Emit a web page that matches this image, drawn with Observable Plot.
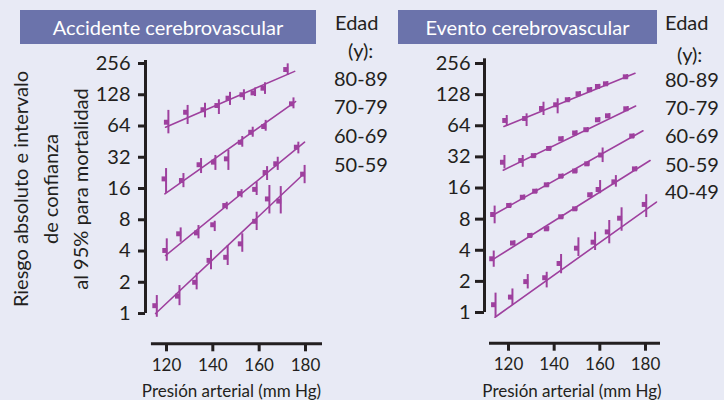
<!DOCTYPE html>
<html><head><meta charset="utf-8">
<script src="https://cdn.jsdelivr.net/npm/d3@7"></script>
<script src="https://cdn.jsdelivr.net/npm/@observablehq/plot@0.6"></script>
<style>
body{margin:0;background:#e8eaf5;}
#wrap{position:relative;width:724px;height:400px;overflow:hidden;background:#e8eaf5;font-family:Lato,"Open Sans",sans-serif;color:#231f20;}
.t{position:absolute;white-space:nowrap;line-height:1;}
.title{position:absolute;background:#6b73ab;color:#fff;font-size:20px;text-align:center;height:34px;line-height:34px;white-space:nowrap;}
.ylab{position:absolute;width:300px;height:90px;left:-100px;top:144px;transform:rotate(-90deg);text-align:center;font-size:20px;line-height:30px;white-space:nowrap;}
#wrap svg{position:absolute;top:0;}
</style></head><body><div id="wrap"></div>
<script>
// ---- shared ticks ----
const yTicks = [1, 2, 4, 8, 16, 32, 64, 128, 256];
const xTicks = [120, 140, 160, 180];

// ---- Accidente cerebrovascular ----
const strokeAges = ["80-89", "70-79", "60-69", "50-59"];
const strokeBP = [
  [120.3, 128.6, 136.1, 142.1, 146.9, 152.9, 157.7, 162.0, 171.8],
  [119.3, 126.8, 134.4, 140.6, 146.2, 152.2, 156.7, 162.3, 174.3],
  [119.6, 125.6, 133.3, 140.3, 145.5, 151.9, 158.4, 162.9, 167.5, 176.4],
  [115.3, 125.1, 132.5, 138.7, 145.9, 152.2, 158.4, 163.9, 168.8, 179.1]
];
const strokeRisk = [
  [69.6, 86.8, 91.8, 100.8, 118.6, 128, 133.4, 148, 224],
  [19.8, 19.1, 27.1, 28.7, 30.9, 44.6, 55.7, 63.3, 104.7],
  [4.05, 5.86, 5.98, 7.16, 10.97, 14.3, 15.7, 22.8, 27.7, 40],
  [1.19, 1.47, 2.0, 3.25, 3.48, 4.69, 7.73, 12.7, 12.1, 22]
];
const strokeLo = [
  [53.8, 66.2, 76.7, 82.6, 101, 113, 123, 129, 197],
  [14.3, 16.3, 22.3, 23.9, 23.9, 40, 49.9, 57, 93.7],
  [3.19, 4.86, 5.24, 6.16, 9.98, 13, 13.7, 19.1, 23.9, 34.5],
  [0.92, 1.19, 1.69, 2.64, 2.9, 3.89, 6.3, 9.1, 9.1, 17.8]
];
const strokeHi = [
  [90.5, 101, 106, 114.5, 135, 143, 149, 167, 254],
  [24.9, 22.3, 31.1, 33.3, 37.3, 50.7, 62.3, 72.5, 119.4],
  [5.24, 6.68, 7.04, 7.74, 11.8, 15.6, 18.4, 26, 32, 44.7],
  [1.49, 1.86, 2.45, 4.05, 4.52, 5.86, 9.46, 17.1, 16.7, 26.7]
];
const strokeFitBP = [[119.6, 175.3], [119.3, 175.7], [119.6, 179.6], [115.3, 179.3]];
const strokeFitRisk = [[62.3, 215], [14.2, 110], [3.62, 44.7], [1.0, 22.2]];

// ---- Evento cerebrovascular ----
const eventAges = ["80-89", "70-79", "60-69", "50-59", "40-49"];
const eventBP = [
  [118.7, 127.4, 134.8, 141.0, 146.1, 150.8, 155.7, 159.3, 162.8, 171.5],
  [117.7, 125.7, 131.2, 137.9, 143.2, 149.3, 154.2, 159.3, 163.7, 171.7],
  [113.4, 120.4, 126.4, 131.8, 136.9, 143.2, 149.3, 154.6, 160.7, 174.3],
  [113.0, 122.1, 129.6, 136.9, 143.2, 149.3, 155.9, 159.6, 166.5, 175.5],
  [113.8, 121.2, 127.9, 136.2, 142.5, 150.1, 157.4, 163.6, 169.0, 179.8]
];
const eventRisk = [
  [72.0, 75.2, 94.0, 102.1, 114.3, 130.4, 142.8, 153.4, 162.9, 190.4],
  [28.4, 29.5, 32.9, 38.6, 47.9, 54.5, 58.6, 73.1, 79.9, 93.4],
  [8.87, 10.84, 13.03, 14.90, 17.18, 20.81, 23.36, 27.42, 33.36, 50.9],
  [3.31, 4.70, 5.56, 6.45, 8.43, 10.07, 13.76, 15.48, 18.36, 24.5],
  [1.19, 1.41, 1.99, 2.17, 2.98, 4.19, 4.79, 6.02, 8.17, 11.1]
];
const eventLo = [
  [62.9, 62.9, 80.4, 83.5, 109, 124, 136, 146, 155, 181],
  [24.5, 25.4, 31.3, 36.7, 45.5, 51.8, 55.7, 69.4, 75.9, 88.7],
  [7.21, 10.3, 12.4, 14.2, 16.3, 19.8, 22.2, 26.0, 28.2, 48.4],
  [2.74, 4.47, 5.28, 6.13, 8.01, 9.57, 13.1, 14.1, 16.3, 23.3],
  [0.905, 1.17, 1.69, 1.73, 2.37, 3.48, 3.98, 4.62, 6.11, 8.29]
];
const eventHi = [
  [80.4, 83.5, 108.1, 116.6, 120, 137, 150, 161, 171, 200],
  [33.0, 33.0, 34.5, 40.5, 50.3, 57.2, 61.5, 76.8, 83.9, 98.1],
  [10.7, 11.4, 13.7, 15.6, 18.0, 21.9, 24.5, 28.8, 39.0, 53.4],
  [3.93, 4.94, 5.84, 6.77, 8.85, 10.6, 14.4, 18.9, 21.1, 25.7],
  [1.54, 1.69, 2.33, 2.45, 3.64, 5.28, 5.98, 7.76, 10.3, 13.8]
];
const eventFitBP = [[118.0, 175.4], [117.7, 175.7], [112.9, 178.9], [112.9, 182.0], [114.1, 184.8]];
const eventFitRisk = [[62.9, 206], [23.8, 99.4], [8.67, 57.2], [3.23, 29.5], [0.90, 11.7]];

const titles = ["Accidente cerebrovascular", "Evento cerebrovascular"];
const yLabelLines = ["Riesgo absoluto e intervalo", "de confianza", "al 95% para mortalidad"];
const xLabel = "Presión arterial (mm Hg)";
const legendHead = ["Edad", "(y):"];

const purple = "#9e409e";
const ink = "#231f20";

function rows(ages, bp, risk, lo, hi) {
  return ages.flatMap((age, i) => bp[i].map((x, j) => ({age, bp: x, risk: risk[i][j], lo: lo[i][j], hi: hi[i][j]})));
}
function fitRows(ages, fbp, frisk) {
  return ages.flatMap((age, i) => fbp[i].map((x, j) => ({age, bp: x, risk: frisk[i][j]})));
}

function panel(o) {
  return Plot.plot({
    width: 362, height: 400,
    marginLeft: o.marginLeft, marginRight: o.marginRight, marginTop: o.marginTop, marginBottom: o.marginBottom,
    x: {domain: o.xDomain},
    y: {type: "log", base: 2, domain: o.yDomain},
    style: {background: "transparent", fontFamily: "Lato, 'Open Sans', sans-serif", fontSize: "20px", color: ink, overflow: "visible"},
    marks: [
      Plot.ruleX([o.xDomain[0]], {x: d => d, y1: yTicks[0], y2: o.yDomain[1], stroke: ink, strokeWidth: 3}),
      Plot.ruleY([o.yDomain[0]], {y: d => d, x1: o.xLineStart, x2: o.xDomain[1], stroke: ink, strokeWidth: 3}),
      Plot.axisY(yTicks, {anchor: "left", tickSize: o.yTickSize, tickPadding: o.yTickPad, strokeWidth: 3, fontSize: 20, tickFormat: d => String(d), label: null}),
      Plot.axisX(xTicks, {anchor: "bottom", tickSize: 8, tickPadding: 7, strokeWidth: 3, fontSize: 17, tickFormat: d => String(d), label: null}),
      Plot.line(o.fits, {x: "bp", y: "risk", z: "age", stroke: purple, strokeWidth: 1.6}),
      Plot.ruleX(o.pts, {x: "bp", y1: "lo", y2: "hi", stroke: purple, strokeWidth: 2, dx: 1.2}),
      Plot.dot(o.pts, {x: "bp", y: "risk", symbol: "square", r: 2.8, fill: purple, stroke: null, dx: -0.8})
    ]
  });
}

const wrap = document.getElementById("wrap");

const left = panel({
  pts: rows(strokeAges, strokeBP, strokeRisk, strokeLo, strokeHi),
  fits: fitRows(strokeAges, strokeFitBP, strokeFitRisk),
  xDomain: [110.94, 187.34], yDomain: [0.511, 273.6], xLineStart: 113.5,
  marginLeft: 145, marginRight: 40, marginTop: 60, marginBottom: 56.7,
  yTickSize: 7, yTickPad: 8
});
left.style.left = "0px";
wrap.appendChild(left);

const right = panel({
  pts: rows(eventAges, eventBP, eventRisk, eventLo, eventHi),
  fits: fitRows(eventAges, eventFitBP, eventFitRisk),
  xDomain: [109.49, 186.57], yDomain: [0.505, 284.3], xLineStart: 111.68,
  marginLeft: 122, marginRight: 64, marginTop: 58.3, marginBottom: 57.3,
  yTickSize: 9, yTickPad: 5
});
right.style.left = "362px";
wrap.appendChild(right);

function addTitle(text, x, w) {
  const d = document.createElement("div");
  d.className = "title";
  d.style.left = x + "px"; d.style.top = "10px"; d.style.width = w + "px";
  d.textContent = text;
  wrap.appendChild(d);
}
addTitle(titles[0], 20, 296);
addTitle(titles[1], 398, 259);

function addText(text, x, cy, size, anchor) {
  const d = document.createElement("div");
  d.className = "t";
  d.style.fontSize = size + "px";
  d.style.top = (cy - size * 0.53) + "px";
  if (anchor === "middle") { d.style.left = (x - 200) + "px"; d.style.width = "400px"; d.style.textAlign = "center"; }
  else d.style.left = x + "px";
  d.textContent = text;
  wrap.appendChild(d);
}
// legends
addText(legendHead[0], 335, 22.5, 20);
addText(legendHead[1], 348, 51, 20);
[78.3, 106.8, 135.8, 164.2].forEach((cy, i) => addText(strokeAges[i], 334, cy, 20));
addText(legendHead[0], 665, 22.5, 20);
addText(legendHead[1], 677, 55, 20);
[79.5, 108, 136, 164.7, 192].forEach((cy, i) => addText(eventAges[i], 665, cy, 20));
// x axis labels
addText(xLabel, 231.5, 391, 17, "middle");
addText(xLabel, 572, 391, 17, "middle");
// y label
const yl = document.createElement("div");
yl.className = "ylab";
yl.innerHTML = yLabelLines.map(s => "<div>" + s + "</div>").join("");
wrap.appendChild(yl);
</script></body></html>
